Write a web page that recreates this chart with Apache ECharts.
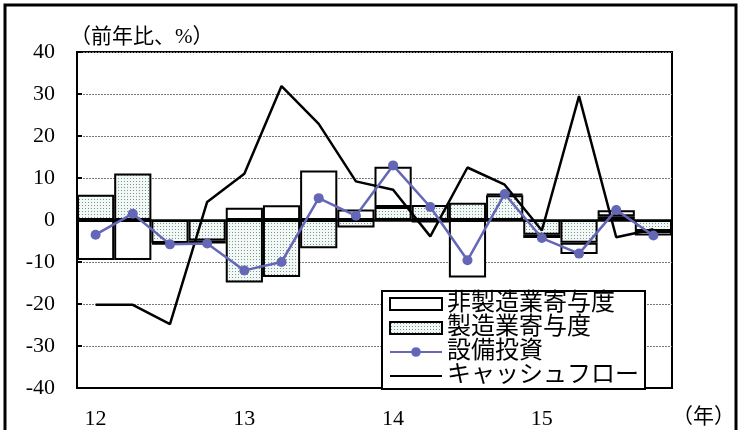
<!DOCTYPE html>
<html>
<head>
<meta charset="utf-8">
<script src="https://cdn.jsdelivr.net/npm/echarts@6/dist/echarts.min.js"></script>
<style>
html,body{margin:0;padding:0;background:#fff;}
#chart{width:743px;height:430px;}
</style>
</head>
<body>
<div id="chart"></div>
<script>
// ---- data ----
const quarters = ['12Q1','12Q2','12Q3','12Q4','13Q1','13Q2','13Q3','13Q4','14Q1','14Q2','14Q3','14Q4','15Q1','15Q2','15Q3','15Q4'];
const yearLabels = ['12','','','','13','','','','14','','','','15','','',''];
const manufacturing = [6.0, 11.1, -5.5, -4.9, -14.9, -13.6, -6.7, -1.8, 3.1, 3.6, 4.1, 5.9, -3.5, -5.4, 0.9, -2.6];
const nonManufacturing = [-9.5, -9.5, -0.3, -0.7, 2.9, 3.5, 11.8, 2.5, 9.6, -0.6, -13.7, 0.3, -0.8, -2.7, 1.4, -1.1];
const investment = [-3.5, 1.5, -5.8, -5.6, -12.0, -10.0, 5.2, 1.0, 13.0, 3.1, -9.6, 6.2, -4.3, -8.0, 2.4, -3.7];
const cashFlow = [-20.2, -20.2, -24.8, 4.3, 11.0, 31.9, 22.9, 9.2, 7.2, -3.9, 12.5, 8.4, -2.5, 29.5, -4.1, -2.2];
const seriesNames = ['非製造業寄与度', '製造業寄与度', '設備投資', 'キャッシュフロー'];
const yAxisTitle = '（前年比、%）';
const xAxisUnit = '（年）';

// dotted pattern
const pc = document.createElement('canvas');
pc.width = 3; pc.height = 3;
const pctx = pc.getContext('2d');
pctx.fillStyle = '#f3f7f5';
pctx.fillRect(0,0,3,3);
pctx.fillStyle = '#729d8b';
pctx.fillRect(1,1,1,1);
const dotPattern = {image: pc, repeat: 'repeat'};

const FONT = "'Times New Roman', 'Liberation Serif', 'Noto Sans CJK JP', serif";
const chart = echarts.init(document.getElementById('chart'), null, {renderer:'canvas'});
chart.setOption({
  animation: false,
  textStyle: {fontFamily: FONT},
  grid: {left: 77, right: 71, top: 52, bottom: 37, show: true, borderColor: '#000', borderWidth: 2, backgroundColor: 'transparent'},
  xAxis: {
    type: 'category', data: quarters,
    axisLine: {onZero: false, lineStyle: {color: '#000', width: 2}},
    axisTick: {show: false},
    axisLabel: {interval: 0, margin: 20, fontSize: 22, color: '#000', fontFamily: FONT,
      formatter: (v, i) => yearLabels[i]}
  },
  yAxis: {
    type: 'value', min: -40, max: 40, interval: 10,
    axisLine: {show: true, lineStyle: {color: '#000', width: 2}},
    axisTick: {show: true, inside: true, length: 5, lineStyle: {color: '#000', width: 2}},
    axisLabel: {fontSize: 22, color: '#000', margin: 22, fontFamily: FONT},
    splitLine: {show: true, lineStyle: {color: '#777', width: 1, type: [2, 1]}}
  },
  legend: {
    data: [
      {name: seriesNames[0], icon: 'rect'},
      {name: seriesNames[1], icon: 'rect'},
      {name: seriesNames[2]},
      {name: seriesNames[3], itemStyle: {opacity: 0}}
    ],
    orient: 'vertical', left: 382, top: 291,
    padding: [1, 6, 1, 7], itemGap: 0,
    itemWidth: 52, itemHeight: 12,
    backgroundColor: '#fff', borderColor: '#000', borderWidth: 2, borderRadius: 0,
    textStyle: {fontSize: 24, lineHeight: 23, color: '#000', fontFamily: FONT}
  },
  graphic: [
    {type: 'rect', shape: {x: 5, y: 5, width: 731, height: 440}, style: {fill: 'none', stroke: '#000', lineWidth: 3}, silent: true},
    {type: 'text', left: 70, top: 27, style: {text: yAxisTitle, fill: '#000', font: "21px 'Times New Roman', 'Liberation Serif', 'Noto Sans CJK JP', serif"}},
    {type: 'text', left: 672, top: 407, style: {text: xAxisUnit, fill: '#000', font: "21px 'Times New Roman', 'Liberation Serif', 'Noto Sans CJK JP', serif"}}
  ],
  series: [
    {name: '製造業寄与度', type: 'bar', stack: 'c', data: manufacturing, barCategoryGap: '0%',
     itemStyle: {color: dotPattern, borderColor: '#000', borderWidth: 2}, z: 2},
    {name: '非製造業寄与度', type: 'bar', stack: 'c', data: nonManufacturing, barCategoryGap: '0%',
     itemStyle: {color: '#fff', borderColor: '#000', borderWidth: 2}, z: 2,
     markLine: {silent: true, symbol: 'none', label: {show: false},
       lineStyle: {color: '#000', width: 2.5, type: 'solid'}, data: [{yAxis: 0}]}},
    {name: 'キャッシュフロー', type: 'line', data: cashFlow, symbol: 'none',
     lineStyle: {color: '#000', width: 2.5}, itemStyle: {color: '#000'}, z: 4},
    {name: '設備投資', type: 'line', data: investment, symbol: 'circle', symbolSize: 10,
     lineStyle: {color: '#6466b6', width: 2.5}, itemStyle: {color: '#6466b6'}, z: 5}
  ]
});
</script>
</body>
</html>
